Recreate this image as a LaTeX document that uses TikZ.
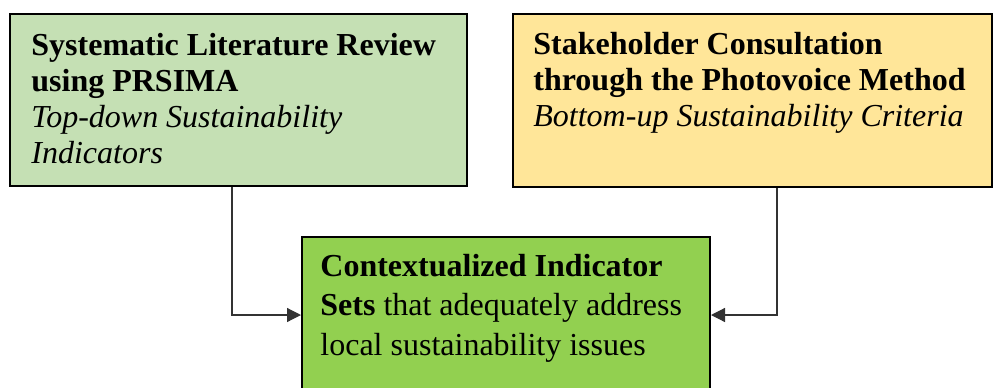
\documentclass[tikz,border=0pt]{standalone}
\usepackage{fontspec}
\setmainfont{Liberation Serif}
\usetikzlibrary{arrows.meta, positioning}

\definecolor{reviewgreen}{HTML}{C5E0B4}
\definecolor{photoyellow}{HTML}{FFE699}
\definecolor{setgreen}{HTML}{92D050}

\begin{document}
\begin{tikzpicture}[x=0.5pt, y=0.5pt,
        box/.style={rectangle, draw=black, line width=1pt, anchor=north west, inner sep=0pt},
        boxtext/.style={anchor=base west, align=left, inner sep=0pt, font=\fontsize{16}{18}\selectfont},
        arrow/.style={-{Triangle[length=7pt, width=7pt]}, line width=0.6pt, draw=black!80}
      ]
\useasboundingbox (0,0) rectangle (993,-387);

\node[box, fill=reviewgreen, minimum width=228.5pt, minimum height=86pt] (review) at (9,-13) {};
      \node[box, fill=photoyellow, minimum width=239.5pt, minimum height=86.5pt] (photovoice) at (512,-13) {};
      \node[box, fill=setgreen, minimum width=204pt, minimum height=78pt] (sets) at (301,-236) {};

% text is placed by the baseline of its last line
\node[boxtext] (reviewtext) at ([shift={(22,-150)}]review.north west)
        {\textbf{Systematic Literature Review}\\\textbf{using PRSIMA}\\\textit{Top-down Sustainability}\\\textit{Indicators}};
      \node[boxtext] (photovoicetext) at ([shift={(21,-113)}]photovoice.north west)
        {\textbf{Stakeholder Consultation}\\\textbf{through the Photovoice Method}\\\textit{Bottom-up Sustainability Criteria}};
      \node[boxtext, font=\fontsize{16}{19.75}\selectfont] (setstext) at ([shift={(19,-119)}]sets.north west)
        {\textbf{Contextualized Indicator}\\\textbf{Sets} that adequately address\\local sustainability issues};

\draw[arrow] ([xshift=-3.25pt]review.south) |- (sets.west);
      \draw[arrow] ([xshift=12.25pt]photovoice.south) |- (sets.east);

      \end{tikzpicture}
\end{document}
